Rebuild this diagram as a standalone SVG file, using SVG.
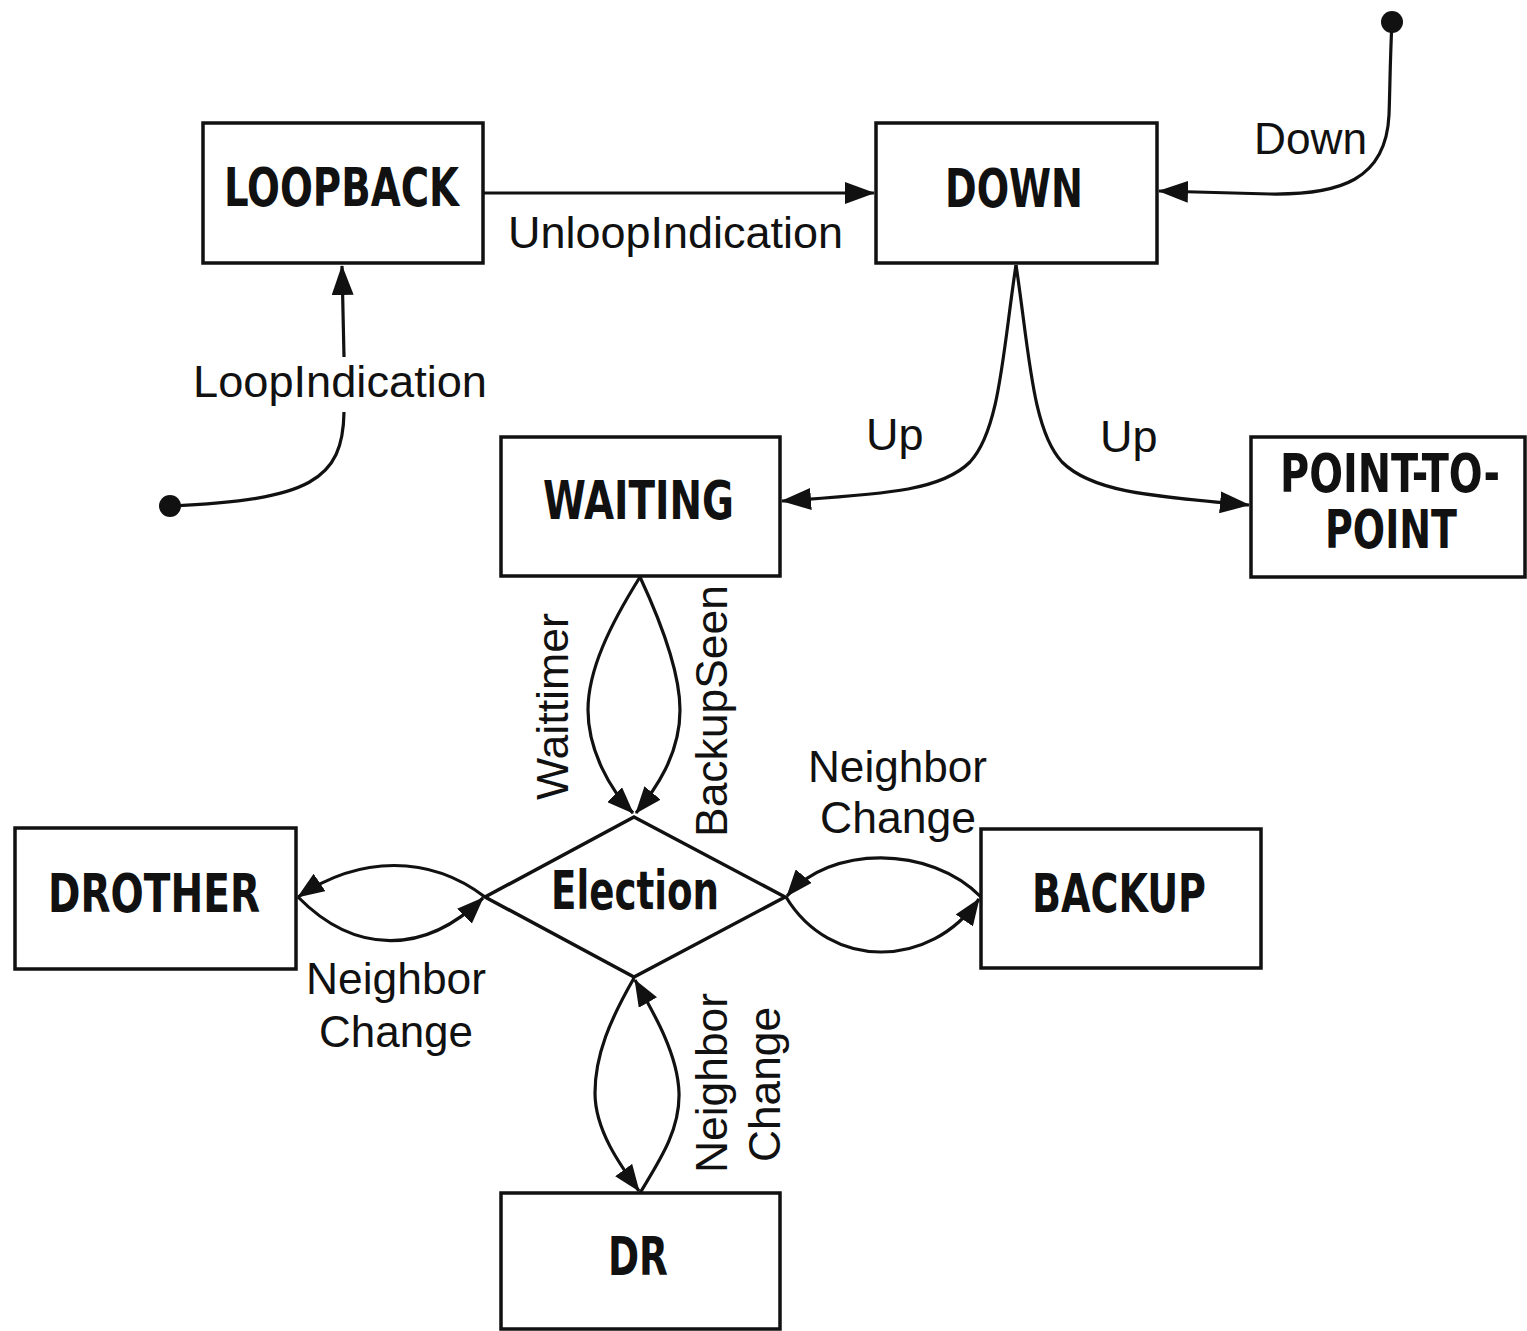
<svg xmlns="http://www.w3.org/2000/svg" width="1527" height="1331" viewBox="0 0 1527 1331">
<style>
.box{fill:#fff;stroke:#111;stroke-width:3.5}
.title{font-family:"Liberation Sans Narrow","DejaVu Sans Condensed","Liberation Sans",sans-serif;font-weight:bold;font-size:53px;fill:#111}
.lbl{font-family:"Liberation Sans",Arial,sans-serif;font-size:45px;fill:#111}
.conn path{fill:none;stroke:#111;stroke-width:3.2}
.dot{fill:#111}
</style>
<defs>
<marker id="ah" viewBox="0 0 30 22" refX="29" refY="11" markerWidth="30" markerHeight="22" markerUnits="userSpaceOnUse" orient="auto">
<path d="M0,0 L30,11 L0,22 z" fill="#111"/>
</marker>
<marker id="ahs" viewBox="0 0 27 21" refX="26" refY="10.5" markerWidth="27" markerHeight="21" markerUnits="userSpaceOnUse" orient="auto">
<path d="M0,0 L27,10.5 L0,21 z" fill="#111"/>
</marker>
</defs>
<rect width="1527" height="1331" fill="#fff"/>

<g id="connectors" class="conn">
<path d="M484,193 L874,193" marker-end="url(#ah)"/>
<path d="M344,357 L342,266" marker-end="url(#ah)"/>
<path d="M344,412 C343,480 310,500 170,506"/>
<path d="M1392,22 C1390,60 1390,90 1389,115 C1386,180 1340,195 1270,194 L1159,191" marker-end="url(#ah)"/>
<path d="M1016,265 C1003,350 1000,430 970,462 C940,492 880,494 782,501" marker-end="url(#ah)"/>
<path d="M1016,265 C1029,350 1032,430 1062,462 C1092,492 1150,496 1249,505" marker-end="url(#ah)"/>
<path d="M640,577 C610,625 588,670 588,710 C588,750 610,790 633,813" marker-end="url(#ahs)"/>
<path d="M640,577 C660,620 680,670 680,710 C680,755 655,790 636,813" marker-end="url(#ahs)"/>
<path d="M485,897 C430,855 360,855 298,897" marker-end="url(#ahs)"/>
<path d="M298,897 C355,955 425,955 483,898" marker-end="url(#ahs)"/>
<path d="M981,897 C930,845 830,845 787,896" marker-end="url(#ahs)"/>
<path d="M786,897 C830,970 930,970 979,899" marker-end="url(#ahs)"/>
<path d="M634,978 C610,1020 595,1055 595,1093 C595,1130 620,1165 639,1191" marker-end="url(#ahs)"/>
<path d="M640,1193 C660,1160 680,1130 679,1093 C678,1055 655,1015 635,980" marker-end="url(#ahs)"/>
</g>

<g id="start-dots">
<circle class="dot" cx="170" cy="506" r="11"/>
<circle class="dot" cx="1392" cy="22" r="11"/>
</g>

<g id="labels">
<text class="lbl" x="508" y="248" textLength="335" lengthAdjust="spacingAndGlyphs">UnloopIndication</text>
<text class="lbl" x="193" y="397" textLength="294" lengthAdjust="spacingAndGlyphs">LoopIndication</text>
<text class="lbl" x="1254" y="154" textLength="113" lengthAdjust="spacingAndGlyphs">Down</text>
<text class="lbl" x="866" y="450">Up</text>
<text class="lbl" x="1100" y="452">Up</text>
<text class="lbl" transform="translate(568,800) rotate(-90)" textLength="187" lengthAdjust="spacingAndGlyphs">Waittimer</text>
<text class="lbl" transform="translate(727,837) rotate(-90)" textLength="252" lengthAdjust="spacingAndGlyphs">BackupSeen</text>
<text class="lbl" x="808" y="782" textLength="179" lengthAdjust="spacingAndGlyphs">Neighbor</text>
<text class="lbl" x="820" y="833" textLength="156" lengthAdjust="spacingAndGlyphs">Change</text>
<text class="lbl" x="306" y="994" textLength="180" lengthAdjust="spacingAndGlyphs">Neighbor</text>
<text class="lbl" x="319" y="1047" textLength="154" lengthAdjust="spacingAndGlyphs">Change</text>
<text class="lbl" transform="translate(727,1173) rotate(-90)" textLength="180" lengthAdjust="spacingAndGlyphs">Neighbor</text>
<text class="lbl" transform="translate(780,1162) rotate(-90)" textLength="155" lengthAdjust="spacingAndGlyphs">Change</text>
</g>

<g id="node-loopback">
<rect class="box" x="203" y="123" width="280" height="140"/>
<text class="title" x="224" y="206" textLength="235" lengthAdjust="spacingAndGlyphs">LOOPBACK</text>
</g>
<g id="node-down">
<rect class="box" x="876" y="123" width="281" height="140"/>
<text class="title" x="945" y="207" textLength="138" lengthAdjust="spacingAndGlyphs">DOWN</text>
</g>
<g id="node-waiting">
<rect class="box" x="501" y="437" width="279" height="139"/>
<text class="title" x="543" y="519" textLength="191" lengthAdjust="spacingAndGlyphs">WAITING</text>
</g>
<g id="node-point-to-point">
<rect class="box" x="1251" y="437" width="274" height="140"/>
<text class="title" transform="translate(1280,492) scale(0.8,1)" textLength="275" lengthAdjust="spacingAndGlyphs">POINT-TO-</text>
<text class="title" transform="translate(1325,548) scale(0.8,1)" textLength="165" lengthAdjust="spacingAndGlyphs">POINT</text>
</g>
<g id="node-election">
<path d="M634,817 L785,897 L634,977 L485,897 Z" fill="none" stroke="#111" stroke-width="3.5" stroke-linejoin="miter"/>
<text class="title" x="551" y="909" textLength="168" lengthAdjust="spacingAndGlyphs">Election</text>
</g>
<g id="node-drother">
<rect class="box" x="15" y="828" width="281" height="141"/>
<text class="title" x="48" y="912" textLength="212" lengthAdjust="spacingAndGlyphs">DROTHER</text>
</g>
<g id="node-backup">
<rect class="box" x="981" y="829" width="280" height="139"/>
<text class="title" x="1032" y="912" textLength="174" lengthAdjust="spacingAndGlyphs">BACKUP</text>
</g>
<g id="node-dr">
<rect class="box" x="501" y="1193" width="279" height="136"/>
<text class="title" x="608" y="1275" textLength="60" lengthAdjust="spacingAndGlyphs">DR</text>
</g>
</svg>
